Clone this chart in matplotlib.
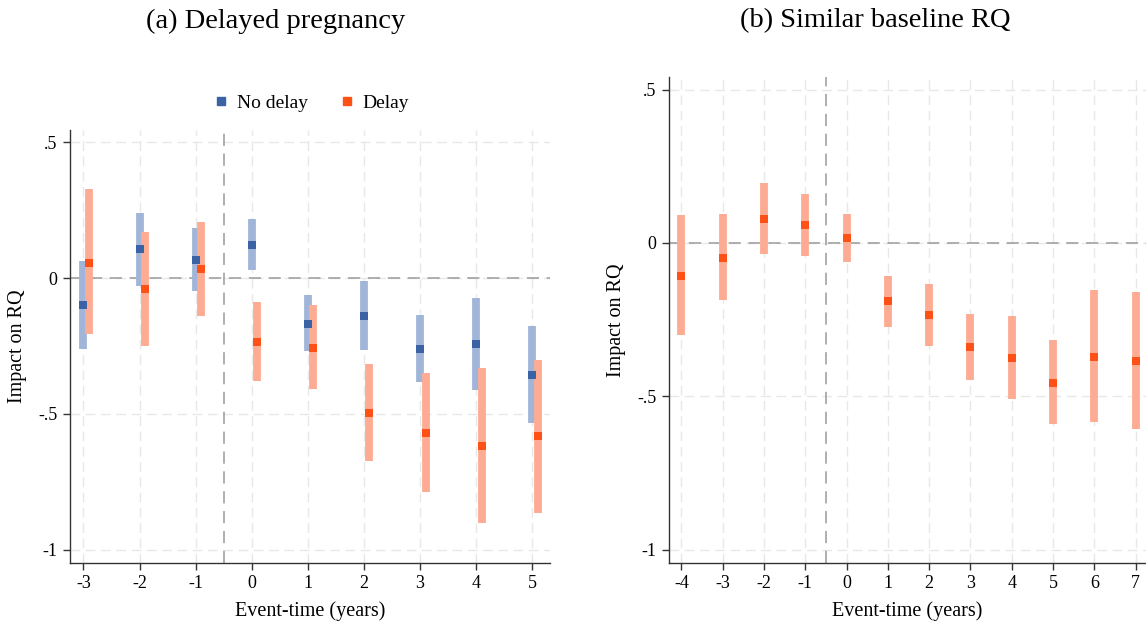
import matplotlib.pyplot as plt
from matplotlib.lines import Line2D
import numpy as np

plt.rcParams['font.family'] = ['Liberation Serif', 'DejaVu Serif']

# ---------------------------------------------------------------------#
# Event-study estimates (point, lower CI, upper CI)
# ---------------------------------------------------------------------#

# (a) Delayed pregnancy
years_a = np.array([-3, -2, -1, 0, 1, 2, 3, 4, 5])

nodelay_b = [-0.100, 0.107, 0.067, 0.122, -0.168, -0.141, -0.261, -0.244, -0.357]
nodelay_lo = [-0.260, -0.028, -0.049, 0.028, -0.267, -0.266, -0.382, -0.412, -0.533]
nodelay_hi = [0.061, 0.241, 0.186, 0.217, -0.064, -0.012, -0.137, -0.074, -0.178]

delay_b = [0.057, -0.040, 0.033, -0.235, -0.257, -0.496, -0.570, -0.617, -0.583]
delay_lo = [-0.206, -0.249, -0.141, -0.378, -0.408, -0.674, -0.787, -0.901, -0.865]
delay_hi = [0.326, 0.170, 0.208, -0.088, -0.101, -0.316, -0.349, -0.330, -0.300]

# (b) Similar baseline RQ
years_b = np.array([-4, -3, -2, -1, 0, 1, 2, 3, 4, 5, 6, 7])

sim_b = [-0.106, -0.048, 0.078, 0.059, 0.016, -0.190, -0.236, -0.339, -0.374, -0.455, -0.370, -0.383]
sim_lo = [-0.300, -0.187, -0.036, -0.042, -0.062, -0.274, -0.337, -0.447, -0.510, -0.589, -0.583, -0.606]
sim_hi = [0.090, 0.093, 0.196, 0.159, 0.096, -0.107, -0.133, -0.232, -0.237, -0.316, -0.154, -0.159]

yticks = [0.5, 0, -0.5, -1]
ytick_labels = ['.5', '0', '-.5', '-1']

#---------------------------------------------------------------------#
# Colours
#---------------------------------------------------------------------#
blue_ci = '#a0b5d8'
blue_pt = '#3a62a4'
orange_ci = '#fdab93'
orange_pt = '#ff5116'
grid_col = '#e8e8e8'
ref_col = '#9a9a9a'

W, H = 1146, 623
fig = plt.figure(figsize=(W / 100, H / 100), dpi=100)


def px_axes(left, right, top, bottom):
    return fig.add_axes([left / W, 1 - bottom / H, (right - left) / W, (bottom - top) / H])


def style_axes(ax, xticks):
    for s in ['top', 'right']:
        ax.spines[s].set_visible(False)
    for s in ['left', 'bottom']:
        ax.spines[s].set_color('#333333')
        ax.spines[s].set_linewidth(1.0)
    ax.set_xticks(xticks)
    ax.set_xticklabels([str(t) for t in xticks])
    ax.set_yticks(yticks)
    ax.set_yticklabels(ytick_labels)
    ax.tick_params(axis='both', labelsize=13, length=5, width=1.0, color='#333333', pad=4)
    ax.grid(True, color=grid_col, linestyle=(0, (7, 4)), linewidth=1.0)
    ax.set_axisbelow(True)
    ax.axhline(0, color=ref_col, linestyle=(0, (8, 5)), linewidth=1.1, zorder=1)
    ax.axvline(-0.5, color=ref_col, linestyle=(0, (8, 5)), linewidth=1.1, zorder=1)
    ax.set_xlabel('Event-time (years)', fontsize=14.5, labelpad=6)
    ax.set_ylabel('Impact on RQ', fontsize=14.5, labelpad=8)


def draw_series(ax, x, b, lo, hi, ci_col, pt_col):
    ax.vlines(x, lo, hi, color=ci_col, linewidth=5.6, capstyle='butt', zorder=3)
    ax.plot(x, b, 's', color=pt_col, markersize=5.2, markeredgewidth=0, zorder=4)


# Panel (a)
ax1 = px_axes(70, 550, 130, 563)
draw_series(ax1, years_a, nodelay_b, nodelay_lo, nodelay_hi, blue_ci, blue_pt)
draw_series(ax1, years_a + 0.1, delay_b, delay_lo, delay_hi, orange_ci, orange_pt)
ax1.set_xlim(-3.24, 5.32)
ax1.set_ylim(-1.049, 0.545)
style_axes(ax1, list(years_a))

handles = [Line2D([], [], marker='s', linestyle='none', color=blue_pt, markersize=5.2),
           Line2D([], [], marker='s', linestyle='none', color=orange_pt, markersize=5.2)]
fig.legend(handles, ['No delay', 'Delay'], loc='center', ncol=2, frameon=False,
           bbox_to_anchor=(311 / W, 1 - 103 / H), fontsize=14, handlelength=0.8,
           handletextpad=0.4, columnspacing=1.6)

# Panel (b)
ax2 = px_axes(669, 1146, 77, 563)
draw_series(ax2, years_b, sim_b, sim_lo, sim_hi, orange_ci, orange_pt)
ax2.set_xlim(-4.30, 7.25)
ax2.set_ylim(-1.043, 0.541)
style_axes(ax2, list(years_b))

fig.text(276 / W, 1 - 21 / H, '(a) Delayed pregnancy', ha='center', va='center', fontsize=20.5)
fig.text(875 / W, 1 - 21 / H, '(b) Similar baseline RQ', ha='center', va='center', fontsize=20.5)

fig.savefig('out.png', dpi=100)
